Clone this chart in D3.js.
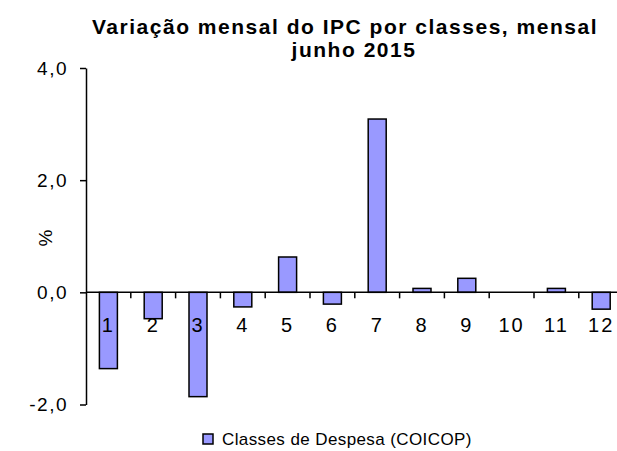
<!DOCTYPE html>
<html>
<head>
<meta charset="utf-8">
<script src="https://cdn.jsdelivr.net/npm/d3@7"></script>
<style>
  body { margin: 0; background: #fff; }
  text { font-family: "Liberation Sans", Arial, sans-serif; fill: #000; }
</style>
</head>
<body>
<svg id="chart"></svg>
<script>
// data
const categories = ["1", "2", "3", "4", "5", "6", "7", "8", "9", "10", "11", "12"];
const values = [-1.36, -0.47, -1.86, -0.26, 0.63, -0.21, 3.09, 0.07, 0.25, 0, 0.07, -0.30];
const yTicks = [-2, 0, 2, 4];
const titleLines = ["Variação mensal do IPC por classes, mensal", "junho 2015"];
const seriesName = "Classes de Despesa (COICOP)";

const width = 617, height = 451;
const svg = d3.select("#chart").attr("width", width).attr("height", height);

// plot area (right side runs past the picture edge, like the original)
const x = d3.scaleBand()
  .domain(categories)
  .range([86, 86 + 12 * 44.8]);

const y = d3.scaleLinear()
  .domain([-2, 4])
  .range([404.5, 68]);

// comma decimals, plain hyphen for minus
const fmt = d => d.toFixed(1).replace(".", ",");

// ---- bars ----
const barW = 18;
svg.append("g")
  .selectAll("rect")
  .data(values)
  .join("rect")
  .attr("x", (d, i) => x(categories[i]) + x.bandwidth() / 2 - barW / 2)
  .attr("y", d => y(Math.max(0, d)))
  .attr("width", barW)
  .attr("height", d => Math.abs(y(d) - y(0)))
  .attr("fill", "#9999ff")
  .attr("stroke", "#000")
  .attr("stroke-width", 1.5);

// ---- y axis ----
const yAxis = svg.append("g")
  .attr("transform", "translate(86,0)")
  .call(d3.axisLeft(y).tickValues(yTicks).tickFormat(fmt).tickSize(6).tickSizeOuter(0).tickPadding(12));
yAxis.select(".domain").attr("stroke", "#000").attr("stroke-width", 1.5);
yAxis.selectAll(".tick line").attr("stroke", "#000").attr("stroke-width", 1.5);
yAxis.selectAll("text")
  .style("font-size", "19px")
  .style("letter-spacing", "1.5px")
  .style("font-family", "Liberation Sans, Arial, sans-serif");

// ---- x axis (at zero) ----
const boundaries = categories.slice(1).map(c => x(c));
const xAxis = svg.append("g").attr("transform", `translate(0,${y(0)})`);
xAxis.append("line")
  .attr("x1", x.range()[0]).attr("x2", x.range()[1])
  .attr("stroke", "#000").attr("stroke-width", 1.5);
xAxis.selectAll("line.tk")
  .data(boundaries)
  .join("line")
  .attr("class", "tk")
  .attr("x1", d => d).attr("x2", d => d)
  .attr("y1", 0).attr("y2", 6)
  .attr("stroke", "#000").attr("stroke-width", 1.5);
xAxis.selectAll("text")
  .data(categories)
  .join("text")
  .attr("x", d => x(d) + x.bandwidth() / 2)
  .attr("y", 40)
  .attr("text-anchor", "middle")
  .style("font-size", "20px")
  .style("letter-spacing", "2px")
  .text(d => d);

// ---- axis title ----
svg.append("text")
  .attr("transform", "translate(52,238) rotate(-90)")
  .attr("text-anchor", "middle")
  .style("font-size", "19px")
  .text("%");

// ---- title ----
const titleX = [345, 354];
const title = svg.selectAll("text.title")
  .data(titleLines)
  .join("text")
  .attr("class", "title")
  .attr("x", (d, i) => titleX[i])
  .attr("y", (d, i) => 34 + i * 23)
  .attr("text-anchor", "middle")
  .style("font-size", "21px")
  .style("font-weight", "bold")
  .text(d => d);

// stretch letter spacing so the first line fills the same width as the original
const firstW = title.nodes()[0].getComputedTextLength();
const spacing = Math.max(0, (506 - firstW) / titleLines[0].length);
title.style("letter-spacing", spacing + "px");

// ---- legend ----
const legend = svg.append("g").attr("transform", "translate(203,434)");
legend.append("rect")
  .attr("width", 10).attr("height", 10)
  .attr("fill", "#9999ff")
  .attr("stroke", "#000")
  .attr("stroke-width", 1.5);
legend.append("text")
  .attr("x", 19)
  .attr("y", 11)
  .style("font-size", "17px")
  .style("letter-spacing", "0.4px")
  .text(seriesName);
</script>
</body>
</html>
